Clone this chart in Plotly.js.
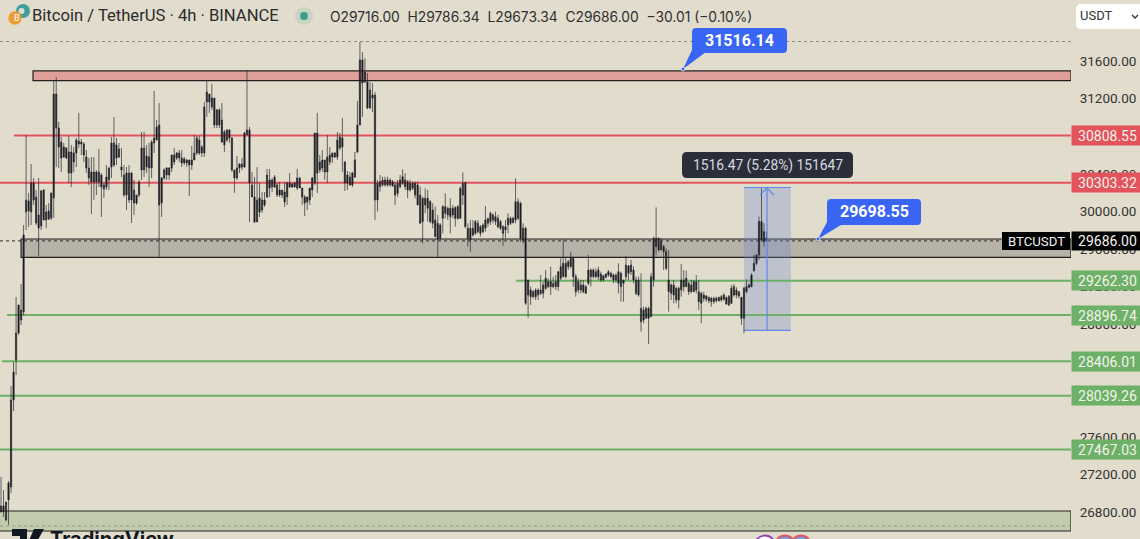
<!DOCTYPE html>
<html><head><meta charset="utf-8">
<script src="https://cdn.plot.ly/plotly-3.0.1.min.js"></script>
<style>html,body{margin:0;padding:0;overflow:hidden;background:#e1dccc}#c{width:1140px;height:539px}</style>
</head><body><div id="c"></div>
<script>
const highs=[
27174,27035,26908,27131,28142,28397,29089,29004,29227,29855,
30813,30196,30504,30355,30227,30355,30227,30238,30068,30089,
30196,31398,31430,30951,30791,30728,30685,30802,30706,30685,
30781,31047,30770,30738,30653,30568,30579,30579,30440,30664,
30408,30302,30493,30472,30791,31004,30781,30728,30674,30493,
30472,30493,30419,30334,30174,30334,30845,30845,30706,30728,
30759,31281,30972,31153,30366,30461,30472,30472,30600,30674,
30632,30653,30653,30579,30557,30547,30696,30813,30802,30802,
30706,31164,31387,31249,31355,31206,31089,31100,31153,30866,
30876,30876,30791,30440,30589,30515,30568,30845,31504,30898,
30419,30366,30472,30302,30206,30206,30451,30451,30355,30387,
30302,30313,30227,30313,30313,30408,30302,30313,30451,30366,
30249,30174,30153,30249,30366,30834,31047,30600,30653,30547,
30813,30685,30621,30632,30845,30834,30994,30536,30430,30419,
30419,30632,31174,31802,31696,31632,31472,31377,31366,31270,
30334,30387,30369,30369,30369,30352,30334,30316,30334,30387,
30447,30405,30334,30334,30316,30316,30316,30263,30157,30245,
30228,30121,30086,30050,29962,29873,30068,30192,30050,30139,
30068,30050,30068,30263,30415,30316,29873,29908,29908,29908,
29908,29855,29873,30057,29926,29997,29979,29997,29962,29908,
29855,29908,29979,29944,29944,30352,30139,30103,29873,29837,
29270,29199,29163,29181,29181,29323,29252,29376,29288,29412,
29305,29323,29358,29500,29703,29518,29483,29571,29518,29334,
29288,29270,29270,29217,29536,29394,29394,29394,29412,29358,
29323,29341,29376,29358,29341,29341,29447,29358,29270,29525,
29429,29483,29412,29305,29305,29341,28986,28986,28986,29341,
29731,30043,29724,29713,29642,29607,29589,29234,29270,29199,
29199,29440,29376,29369,29252,29270,29270,29323,29270,29146,
29146,29110,29092,29092,29092,29092,29092,29110,29128,29092,
29110,29217,29227,29192,29146,29092,29199,29277,29234,29341,
29536,29536,29944,30245,29873,29786];
const lows=[
26801,26748,26705,26663,27003,27876,28259,28685,28791,28897,
29802,29834,29855,30068,29855,29525,29802,29908,29823,29908,
29908,29930,30472,30461,30419,30568,30557,30302,30259,30419,
30472,30674,30600,30525,30408,30281,29972,30121,30174,30259,
29940,30142,30227,30227,30355,30472,30493,30568,30366,30153,
30015,30089,29876,29961,30068,30153,30334,30366,30408,30259,
30355,30621,30759,29515,29940,30334,30334,30334,30419,30493,
30547,30525,30472,30493,30472,30164,30440,30568,30600,30600,
30579,30579,31004,31047,31079,30887,30887,30887,30728,30632,
30738,30728,30419,30196,30334,30408,30440,30461,30813,29887,
30153,29876,29887,29940,29983,30047,30142,30153,30206,30249,
30153,30153,30142,30047,30068,30249,30249,30259,30227,30249,
30068,29951,30015,30068,30153,30281,30196,30408,30419,30334,
30302,30493,30515,30568,30547,30653,30419,30217,30227,30270,
30259,30355,30621,30919,31004,31366,31089,31089,31057,29908,
29997,30210,30263,30263,30263,30263,30263,30068,30157,30245,
30281,30228,30139,30210,30228,30139,30068,29873,29660,29979,
29891,29873,29820,29731,29511,29695,29766,29926,29908,29766,
29926,29837,29908,29926,30068,29820,29625,29571,29731,29749,
29766,29731,29766,29784,29837,29855,29873,29855,29820,29802,
29632,29713,29766,29855,29873,29873,29908,29678,29660,29004,
28869,29004,29075,29057,29057,29110,29075,29163,29181,29110,
29181,29163,29156,29270,29305,29288,29376,29394,29199,29092,
29128,29128,29128,29128,29217,29199,29288,29288,29270,29252,
29252,29288,29305,29288,29234,29241,29128,29039,29039,29270,
29270,29323,29234,29110,29092,28720,28809,28862,28589,28880,
29199,29536,29571,29589,29376,29376,28933,29057,29022,29022,
28968,29092,29146,29199,29110,29128,29146,29128,28951,28809,
29039,29039,29022,28986,29015,29029,29039,29039,29050,29004,
28993,29015,29092,29075,29075,28791,28702,29128,29181,29192,
29359,29429,29483,29678,29625,29673];
const opens=[
26865,26801,26716,26929,27067,27993,28418,28706,28951,28929,
29993,30110,29993,30302,30153,29823,29844,30227,29908,30004,
29930,30142,31249,30887,30738,30579,30674,30632,30408,30621,
30621,30749,30717,30717,30579,30461,30419,30313,30419,30313,
30387,30281,30259,30334,30472,30728,30568,30664,30472,30387,
30174,30408,30121,30227,30089,30174,30440,30674,30472,30579,
30461,30728,30759,30919,30089,30355,30387,30461,30461,30525,
30568,30621,30568,30515,30547,30493,30493,30547,30621,30759,
30621,30621,31164,31249,31111,31206,30919,31079,30972,30706,
30866,30781,30781,30440,30355,30461,30504,30472,30813,30866,
30281,30153,30121,29993,30121,30068,30153,30334,30259,30366,
30281,30174,30227,30206,30153,30259,30291,30259,30249,30355,
30249,30153,30100,30121,30227,30302,30834,30440,30461,30547,
30419,30525,30579,30621,30579,30674,30781,30525,30302,30366,
30281,30366,30632,30919,31611,31377,31377,31100,31238,31238,
30298,30263,30334,30281,30334,30281,30316,30281,30192,30263,
30298,30334,30316,30228,30298,30298,30281,30174,29891,30139,
30032,30103,30015,29908,29703,29855,29926,30050,29962,30032,
29962,30043,29926,29926,30298,30306,29820,29695,29820,29766,
29873,29766,29855,29820,29873,29891,29962,29891,29926,29891,
29837,29802,29855,29926,29880,29908,30103,30086,29695,29820,
29110,29163,29092,29163,29110,29128,29128,29181,29252,29199,
29234,29199,29199,29288,29305,29447,29412,29412,29500,29305,
29163,29217,29146,29199,29234,29376,29305,29358,29305,29334,
29270,29298,29323,29341,29323,29270,29234,29341,29234,29305,
29419,29358,29376,29270,29270,28968,28844,28968,28862,28880,
29270,29713,29589,29678,29625,29571,29270,29128,29217,29181,
29057,29163,29270,29199,29234,29146,29252,29163,29146,29128,
29110,29064,29085,29039,29075,29050,29085,29057,29064,29085,
29004,29022,29199,29110,29146,29085,28862,29146,29192,29199,
29369,29447,29536,29891,29678,29716];
const closes=[
26801,26865,26908,27110,27993,28291,28706,29004,28844,29749,
30121,30004,30302,30121,29876,29961,30217,29908,29993,29919,
30196,31249,30887,30685,30568,30685,30568,30408,30632,30525,
30759,30717,30738,30600,30461,30355,30313,30419,30313,30419,
30259,30238,30366,30461,30728,30493,30706,30579,30440,30174,
30408,30121,30408,30089,30174,30313,30674,30440,30589,30461,
30738,30781,30898,30068,30355,30440,30461,30387,30600,30600,
30621,30568,30515,30557,30515,30547,30547,30621,30781,30621,
30685,31111,31270,31164,31206,30919,31079,30919,30738,30845,
30759,30866,30440,30355,30461,30504,30472,30834,30866,30302,
30153,29887,29887,30142,30015,30121,30387,30249,30334,30259,
30174,30227,30174,30100,30302,30302,30259,30302,30355,30249,
30153,30089,30153,30249,30355,30834,30408,30525,30547,30419,
30579,30600,30621,30579,30759,30791,30685,30302,30387,30281,
30408,30547,30919,31611,31366,31483,31100,31291,31206,30121,
30121,30316,30281,30334,30281,30334,30270,30174,30298,30334,
30369,30263,30228,30298,30245,30174,30068,29873,30139,30068,
30139,29891,29873,29731,29873,29713,30050,29979,30032,29944,
30032,29926,30050,30245,30174,29837,29713,29820,29749,29891,
29784,29837,29784,29908,29926,29979,29908,29944,29837,29820,
29766,29837,29926,29873,29926,30103,29926,29713,29820,29022,
29270,29092,29146,29092,29163,29163,29217,29288,29199,29252,
29199,29252,29358,29412,29447,29305,29465,29500,29305,29146,
29252,29163,29217,29128,29376,29305,29376,29305,29376,29270,
29316,29334,29358,29305,29270,29323,29358,29199,29270,29429,
29341,29429,29270,29128,29110,28826,28951,28862,28968,29305,
29713,29625,29713,29589,29571,29394,29146,29217,29110,29057,
29181,29270,29199,29288,29146,29217,29146,29252,29039,29022,
29075,29100,29050,29075,29039,29075,29050,29092,29110,29015,
29092,29181,29110,29163,29100,28862,29181,29199,29217,29323,
29447,29536,29891,29695,29784,29686];

const priceTicks=[26800,27200,27600,28800,29200,29600,30000,30400,31200,31600];
const resistanceLevels=[30808.55,30303.32];
const resistanceStarts=[5.2,-0.4];
const supportLevels=[29262.30,28896.74,28406.01,28039.26,27467.03];
const supportStarts=[205.2,2.4,0.4,-0.4,-0.4];
const lastPrice=29686;
const lastPriceText='29686.00';
const highMark=31807, lowMark=26652;
const supplyZone=[31392,31494];
const pivotZone=[29511,29706];
const demandZone=[26599,26812];
const measureRange=[28733,30254];
const measureBars=[296,314.7];
const measureMid=305.2;
const ohlcText='O29716.00  H29786.34  L29673.34  C29686.00  −30.01 (−0.10%)';
const titleText='Bitcoin / TetherUS · 4h · BINANCE';
const measureText='1516.47 (5.28%) 151647';
const calloutTexts=['31516.14','29698.55'];

const W=1071,H=539,BG='#e1dccc',RED='#e4535c',GREEN='#6db068',BLUE='#3965f5',MBLUE='#5f87ee';
const bars=opens.map((_,i)=>i);
const xEnd=426.3;
const X=p=>p/W, Y=p=>1-p/H;
const P=(x,y)=>X(x)+' '+Y(y);
const paper=o=>Object.assign({xref:'paper',yref:'paper',layer:'above'},o);
function rr(x0,y0,x1,y1,r){return 'M'+P(x0+r,y0)+' L'+P(x1-r,y0)+' Q'+P(x1,y0)+' '+P(x1,y0+r)+' L'+P(x1,y1-r)+' Q'+P(x1,y1)+' '+P(x1-r,y1)+' L'+P(x0+r,y1)+' Q'+P(x0,y1)+' '+P(x0,y1-r)+' L'+P(x0,y0+r)+' Q'+P(x0,y0)+' '+P(x0+r,y0)+' Z';}
function circle(cx,cy,r,fill,line,lw){return paper({type:'circle',x0:X(cx-r),x1:X(cx+r),y0:Y(cy+r),y1:Y(cy-r),fillcolor:fill,line:{color:line||fill,width:lw||0}});}
function hl(y,x0,color,w,dash){return {type:'line',xref:'x',yref:'y',layer:'below',x0:x0,x1:xEnd,y0:y,y1:y,line:{color:color,width:w,dash:dash||'solid'}};}
function zone(r,x0,fill){return {type:'rect',xref:'x',yref:'y',layer:'below',x0:x0,x1:xEnd,y0:r[0],y1:r[1],fillcolor:fill,line:{color:'#23211e',width:1.2}};}

const shapes=[
 zone(supplyZone,12.75,'#dfa09b'),
 zone(pivotZone,8,'#b7b2a8'),
 zone(demandZone,-1,'#c1ccae'),
 hl(highMark,-0.4,'#8e8c84',1,'dot'),
 hl(lowMark,-0.4,'#8f9a84',1,'dot'),
 hl(lastPrice,-0.4,'#2b2a27',1,'dot'),
 {type:'rect',xref:'x',yref:'y',layer:'below',x0:measureBars[0],x1:measureBars[1],y0:measureRange[0],y1:measureRange[1],fillcolor:'rgba(110,135,205,0.30)',line:{width:0}},
 {type:'line',xref:'x',yref:'y',layer:'below',x0:measureBars[0],x1:measureBars[1],y0:measureRange[0],y1:measureRange[0],line:{color:MBLUE,width:1.2}},
 {type:'line',xref:'x',yref:'y',layer:'below',x0:measureBars[0],x1:measureBars[1],y0:measureRange[1],y1:measureRange[1],line:{color:MBLUE,width:1.2}},
 {type:'line',xref:'x',yref:'y',layer:'above',x0:measureMid,x1:measureMid,y0:measureRange[0],y1:measureRange[1],line:{color:MBLUE,width:1.2}},
 paper({type:'path',path:'M'+P(760,195)+' L'+P(767,188)+' L'+P(774,195),line:{color:MBLUE,width:1.2}}),
 paper({type:'path',path:rr(682,152,853,178,5),fillcolor:'#2a2e39',line:{width:0}}),
 paper({type:'path',path:rr(692,28,787,53,4),fillcolor:BLUE,line:{width:0}}),
 paper({type:'path',path:'M'+P(683,69)+' L'+P(692,50)+' L'+P(706,52)+' Z',fillcolor:BLUE,line:{width:0}}),
 paper({type:'path',path:rr(827,199,921,225,4),fillcolor:BLUE,line:{width:0}}),
 paper({type:'path',path:'M'+P(818,239)+' L'+P(827,222)+' L'+P(841,225)+' Z',fillcolor:BLUE,line:{width:0}}),
 circle(683,69,2,BLUE,'#f4f2ea',0.8),
 circle(818,239,2,BLUE,'#f4f2ea',0.8),
 circle(23,11,7,'#3e9e9a'),
 circle(21.5,11,3,'#e1dccc'),
 circle(15,18,6.7,'#ee9a35'),
 circle(304,16,9,'#c8d3c2'),
 circle(304,16,4,'#3f9f86'),
 paper({type:'path',path:rr(1076,4,1146,29,5),fillcolor:'#ffffff',line:{width:0}}),
 paper({type:'path',path:'M'+P(1132,15)+' L'+P(1135,18)+' L'+P(1138,15),line:{color:'#333',width:1.4}}),
 paper({type:'rect',x0:X(1002),x1:X(1070),y0:Y(250),y1:Y(232),fillcolor:'#000',line:{width:0}}),
 paper({type:'path',path:'M'+P(12,529)+' L'+P(27,529)+' L'+P(27,545)+' L'+P(20,545)+' L'+P(20,536)+' L'+P(12,536)+' Z',fillcolor:'#131722',line:{width:0}}),
 paper({type:'path',path:'M'+P(34,529)+' L'+P(44,529)+' L'+P(35,545)+' L'+P(27,545)+' Z',fillcolor:'#131722',line:{width:0}}),
 circle(765,546,10.5,'#ffffff','#8e44ad',1.8),
 circle(785,546,10.5,'#6ea2dd','#e4535c',1.8),
 circle(801,546,10.5,'#6ea2dd','#e4535c',1.8)
];
resistanceLevels.forEach((v,i)=>shapes.push(hl(v,resistanceStarts[i],RED,2)));
supportLevels.forEach((v,i)=>shapes.push(hl(v,supportStarts[i],GREEN,2)));

function txt(t,x,y,o){return Object.assign({text:t,xref:'paper',yref:'paper',x:X(x),y:Y(y),xanchor:'left',yanchor:'middle',showarrow:false,align:'left',font:{family:'Roboto',size:13.5,color:'#2f2f2f'}},o||{});}
function tag(v,bg){return {text:v.toFixed(2),xref:'paper',yref:'y',x:1,y:v,xanchor:'left',yanchor:'middle',showarrow:false,width:69,height:17,align:'center',bgcolor:bg,borderpad:1,font:{family:'Roboto',size:14,color:'#f4f2ea'}};}
const annotations=[
 txt(titleText,30,16,{font:{family:'Roboto',size:16.6,color:'#2b2b2b'}}),
 txt(ohlcText,328,17,{font:{family:'Inter',size:13.8,color:'#2f2f2f'}}),
 txt('B',12.2,18.5,{font:{family:'Roboto',size:9,color:'#fff'}}),
 txt('USDT',1078,16,{font:{family:'Roboto',size:13,color:'#333'}}),
 txt(measureText,767.5,165,{xanchor:'center',font:{family:'Roboto',size:13.8,color:'#d8dae0'}}),
 txt(calloutTexts[0],739.5,40.5,{xanchor:'center',font:{family:'Roboto',size:16,color:'#fff',weight:700}}),
 txt(calloutTexts[1],874,212,{xanchor:'center',font:{family:'Roboto',size:16,color:'#fff',weight:700}}),
 txt('BTCUSDT',1036,241,{xanchor:'center',font:{family:'Roboto',size:13.2,color:'#f2f2f2'}}),
 txt('TradingView',48,539,{font:{family:'Inter',size:20,color:'#131722',weight:700}}),
 {text:lastPriceText,xref:'paper',yref:'y',x:1,y:lastPrice,xanchor:'left',yanchor:'middle',showarrow:false,width:69,height:16,align:'center',bgcolor:'#000',borderpad:1,font:{family:'Roboto',size:14,color:'#f4f2ea'}}
];
resistanceLevels.forEach(v=>annotations.push(tag(v,RED)));
supportLevels.forEach(v=>annotations.push(tag(v,GREEN)));

const trace={type:'candlestick',x:bars,open:opens,high:highs,low:lows,close:closes,
 whiskerwidth:0,hoverinfo:'skip',showlegend:false,
 increasing:{line:{color:'#2a2a30',width:0.7},fillcolor:'#111115'},
 decreasing:{line:{color:'#2a2a30',width:0.7},fillcolor:'#111115'}};
const layout={width:1140,height:539,margin:{l:0,r:69,t:0,b:0,pad:0},paper_bgcolor:BG,plot_bgcolor:BG,showlegend:false,
 xaxis:{range:[-0.4,xEnd],visible:false,rangeslider:{visible:false},fixedrange:true},
 yaxis:{side:'right',range:[26514,32249],tickvals:priceTicks,tickformat:'.2f',ticks:'outside',ticklen:5,tickcolor:BG,tickwidth:0.1,
  showgrid:false,zeroline:false,showline:false,fixedrange:true,tickfont:{family:'Roboto',size:13.5,color:'#333'}},
 shapes:shapes,annotations:annotations};
Plotly.newPlot('c',[trace],layout,{displayModeBar:false,staticPlot:true});
</script></body></html>
